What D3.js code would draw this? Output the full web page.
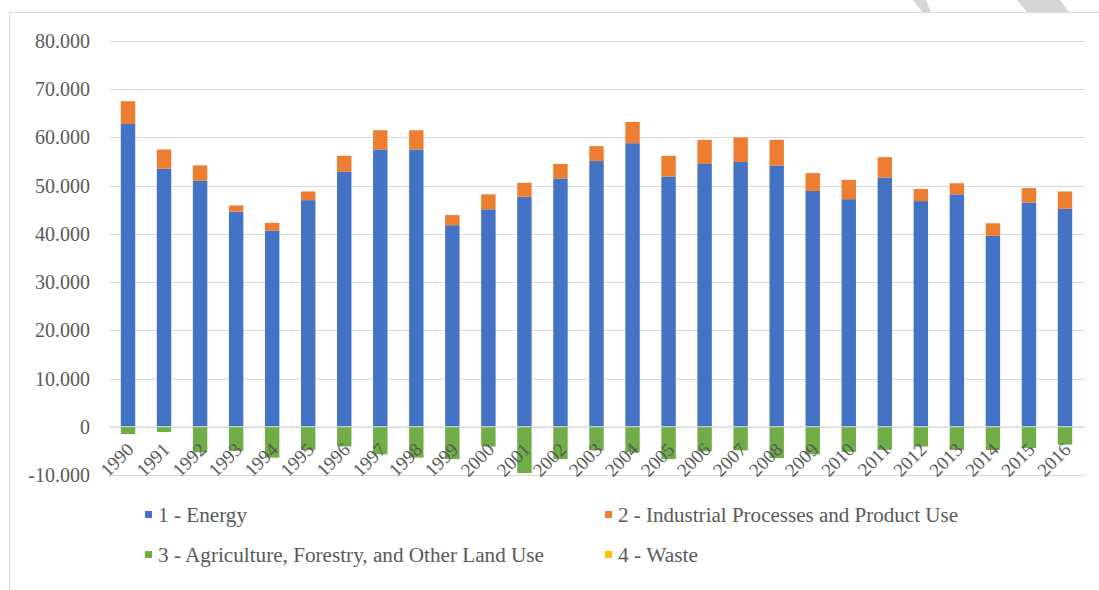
<!DOCTYPE html>
<html>
<head>
<meta charset="utf-8">
<script src="https://cdn.jsdelivr.net/npm/d3@7"></script>
</head>
<body style="margin:0">
<svg id="chart" width="1099" height="590" font-family="Liberation Serif"></svg>
<script>
// Emissions by sector, 1990-2016
const years = ["1990","1991","1992","1993","1994","1995","1996","1997","1998","1999",
  "2000","2001","2002","2003","2004","2005","2006","2007","2008","2009",
  "2010","2011","2012","2013","2014","2015","2016"];

const energy = [62800,53500,51000,44600,40700,47000,52900,57500,57500,41800,
  45100,47700,51500,55100,58800,51900,54500,54900,54200,48900,
  47200,51700,46800,48200,39600,46500,45200];

const ippu = [4700,4000,3200,1300,1600,1800,3300,4000,4000,2100,
  3100,2900,3000,3100,4400,4300,5000,5100,5300,3700,
  4000,4200,2500,2300,2600,3000,3600];

const afolu = [-1500,-1100,-5300,-5000,-6400,-4800,-4100,-5700,-6400,-6700,
  -4100,-9600,-6700,-4900,-5300,-6700,-5100,-4900,-6500,-5700,
  -5200,-4800,-4100,-4800,-4800,-4400,-3700];

const waste = [0,0,0,0,0,0,0,0,0,0,0,0,0,0,0,0,0,0,0,0,0,0,0,0,0,0,0];

const seriesKeys = ["energy","ippu","afolu","waste"];
const seriesNames = ["1 - Energy","2 - Industrial Processes and Product Use",
  "3 - Agriculture, Forestry, and Other Land Use","4 - Waste"];
const seriesColors = ["#4472C4","#ED7D31","#70AD47","#FFC000"];

const yTicks = [-10000,0,10000,20000,30000,40000,50000,60000,70000,80000];

const rows = years.map((yr, i) => ({
  year: yr, energy: energy[i], ippu: ippu[i], afolu: afolu[i], waste: waste[i]
}));

const fontName = "Liberation Serif";
const textColor = "#595959";
const svg = d3.select("#chart");

// page frame and corner decoration
svg.append("path")
  .attr("d", "M9.5,590 V12.5 H1099")
  .attr("fill", "none").attr("stroke", "#d9d9d9").attr("stroke-width", 1);
svg.append("polygon").attr("points", "913,0 926,0 931,12 922,12").attr("fill", "#d6d6d6");
svg.append("polygon").attr("points", "1017,0 1060,0 1069,12 1027,12").attr("fill", "#d6d6d6");

const x = d3.scaleBand().domain(years).range([110, 1083]).paddingInner(0.6).paddingOuter(0.3);
const y = d3.scaleLinear().domain([-10000, 80000]).range([475, 41]);

const locale = d3.formatLocale({decimal: ",", thousands: ".", grouping: [3], currency: ["", ""], minus: "-"});
const fmt = locale.format(",");

// horizontal gridlines
svg.append("g").selectAll("line").data(yTicks).join("line")
  .attr("x1", 110).attr("x2", 1085)
  .attr("y1", d => Math.round(y(d)) + 0.5).attr("y2", d => Math.round(y(d)) + 0.5)
  .attr("stroke", "#d9d9d9").attr("stroke-width", 1);

// value labels
svg.append("g").selectAll("text").data(yTicks).join("text")
  .attr("x", 90).attr("y", d => y(d))
  .attr("dy", "0.35em")
  .attr("text-anchor", "end")
  .attr("font-family", fontName)
  .attr("font-size", 20)
  .attr("fill", textColor)
  .text(d => fmt(d));

// stacked bars
const stack = d3.stack().keys(seriesKeys).offset(d3.stackOffsetDiverging);
const layers = stack(rows);

svg.append("g").selectAll("g")
  .data(layers)
  .join("g")
  .attr("fill", (d, i) => seriesColors[i])
  .selectAll("rect")
  .data(d => d)
  .join("rect")
  .attr("x", d => x(d.data.year))
  .attr("width", x.bandwidth())
  .attr("y", d => y(Math.max(d[0], d[1])))
  .attr("height", d => Math.abs(y(d[0]) - y(d[1])));

// thin light line where bars meet the zero level
svg.append("line")
  .attr("x1", 110).attr("x2", 1085)
  .attr("y1", y(0)).attr("y2", y(0))
  .attr("stroke", "#cfe4ea").attr("stroke-width", 1);

// category labels, rotated
svg.append("g").selectAll("text").data(years).join("text")
  .attr("transform", d => `translate(${x(d) + x.bandwidth() / 2 + 7},${y(0) + 24}) rotate(-45)`)
  .attr("text-anchor", "end")
  .attr("font-family", fontName)
  .attr("font-size", 19)
  .attr("fill", textColor)
  .text(d => d);

// legend
const legendPos = [
  {sx: 145, tx: 158, base: 522, len: 89},
  {sx: 605, tx: 618, base: 522, len: 340},
  {sx: 145, tx: 158, base: 562, len: 386},
  {sx: 605, tx: 618, base: 562, len: 80}
];
const lg = svg.append("g").selectAll("g").data(seriesNames).join("g");
lg.append("rect")
  .attr("x", (d, i) => legendPos[i].sx)
  .attr("y", (d, i) => legendPos[i].base - 11)
  .attr("width", 7).attr("height", 7)
  .attr("fill", (d, i) => seriesColors[i]);
lg.append("text")
  .attr("x", (d, i) => legendPos[i].tx)
  .attr("y", (d, i) => legendPos[i].base)
  .attr("font-family", fontName)
  .attr("font-size", 20)
  .attr("fill", textColor)
  .attr("textLength", (d, i) => legendPos[i].len)
  .attr("lengthAdjust", "spacingAndGlyphs")
  .text(d => d);
</script>
</body>
</html>
